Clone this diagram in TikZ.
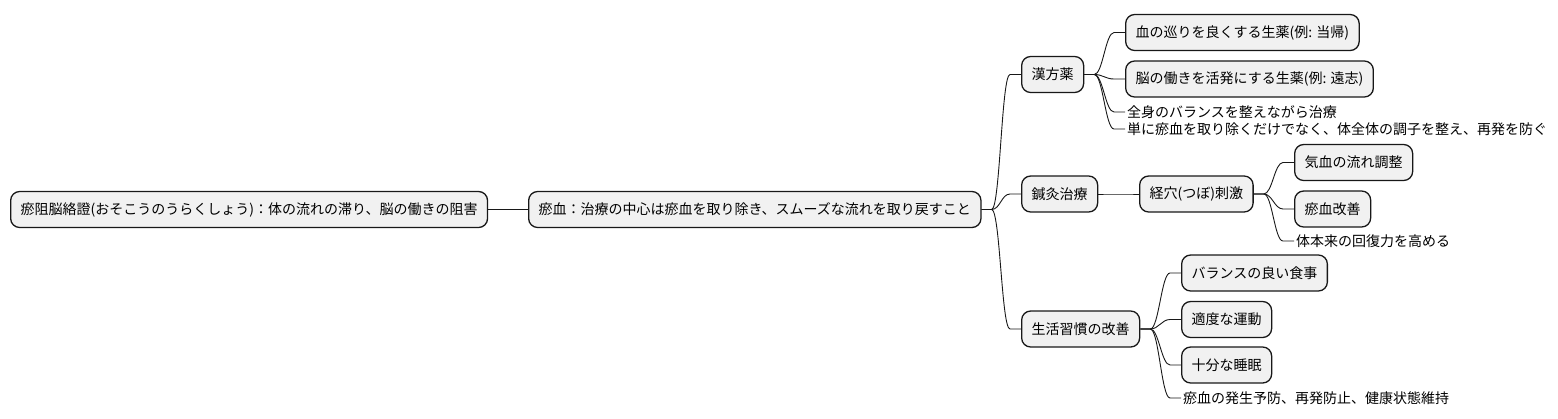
\documentclass[tikz,border=0pt]{standalone}
\usepackage{fontspec}
\setmainfont{Noto Sans CJK JP}
\usetikzlibrary{calc, positioning}
\definecolor{boxfill}{HTML}{F1F1F1}
\definecolor{boxline}{HTML}{181818}

\begin{document}
\begin{tikzpicture}[x=1pt, y=-1pt,
  topic/.style={draw=boxline, fill=boxfill, line width=1.3pt, rounded corners=9pt, anchor=west, minimum height=36pt, inner xsep=10pt, font=\fontsize{14}{17}\selectfont},
  leaf/.style={anchor=west, inner xsep=2pt, inner ysep=0pt, font=\fontsize{14}{17}\selectfont},
  branch/.style={draw=boxline, line width=0.9pt, to path={-- ++(10,0) .. controls +(8.5,0) and +(-8.5,0) .. ($(\tikztotarget)+(-11,0)$) -- (\tikztotarget)}}]

\useasboundingbox (0,0) rectangle (1558,418);

% root and centre
\node[topic] (root) at (10,209.5) {瘀阻脳絡證(おそこうのうらくしょう)：体の流れの滞り、脳の働きの阻害};
\node[topic] (oketsu) at (528,209.5) {瘀血：治療の中心は瘀血を取り除き、スムーズな流れを取り戻すこと};

% kampo
\node[topic] (kampo) at (1021,74.5) {漢方薬};
\node[topic] (meguri) at (1125,32.5) {血の巡りを良くする生薬(例: 当帰)};
\node[topic] (nou) at (1125,79) {脳の働きを活発にする生薬(例: 遠志)};
\node[leaf] (zenshin) at (1125,112) {全身のバランスを整えながら治療};
\node[leaf] (tanni) at (1125,129) {単に瘀血を取り除くだけでなく、体全体の調子を整え、再発を防ぐ};

% shinkyu
\node[topic] (shinkyu) at (1021,194) {鍼灸治療};
\node[topic] (tsubo) at (1139,194) {経穴(つぼ)刺激};
\node[topic] (kiketsu) at (1294,162.5) {気血の流れ調整};
\node[topic] (kaizen) at (1294,209) {瘀血改善};
\node[leaf] (kaifuku) at (1294,241) {体本来の回復力を高める};

% seikatsu
\node[topic] (seikatsu) at (1021,329) {生活習慣の改善};
\node[topic] (shokuji) at (1181,273) {バランスの良い食事};
\node[topic] (undou) at (1181,319.5) {適度な運動};
\node[topic] (suimin) at (1181,365) {十分な睡眠};
\node[leaf] (yobou) at (1181,398) {瘀血の発生予防、再発防止、健康状態維持};

\draw[branch] (root.east) to (oketsu.west);
\foreach \c in {kampo, shinkyu, seikatsu} \draw[branch] (oketsu.east) to (\c.west);
\foreach \c in {meguri, nou, zenshin, tanni} \draw[branch] (kampo.east) to (\c.west);
\draw[branch] (shinkyu.east) to (tsubo.west);
\foreach \c in {kiketsu, kaizen, kaifuku} \draw[branch] (tsubo.east) to (\c.west);
\foreach \c in {shokuji, undou, suimin, yobou} \draw[branch] (seikatsu.east) to (\c.west);

\end{tikzpicture}
\end{document}
